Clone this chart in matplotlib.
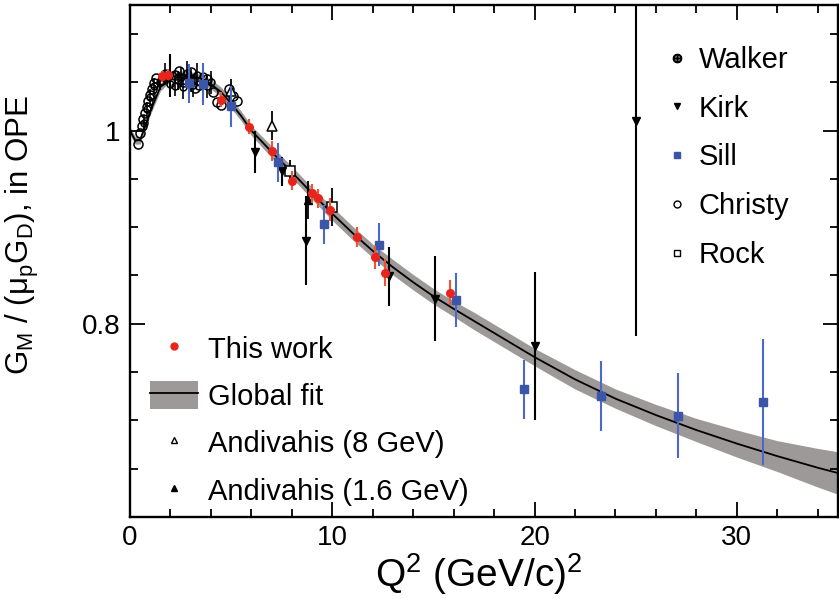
import numpy as np
import matplotlib as mpl
import matplotlib.pyplot as plt
from matplotlib.patches import Patch
from matplotlib.lines import Line2D
from matplotlib.ticker import FixedLocator, FixedFormatter, MultipleLocator

# Global fit curve and half width of its band
fit_q2 = [0, 0.25, 0.5, 0.75, 1.0, 1.5, 2.0, 2.5, 3.0, 3.5, 4.0, 4.5, 5.0, 5.5, 6.0,
          7, 8, 9, 10, 11, 12, 13, 14, 15, 16, 17, 18, 19, 20, 22, 24, 26, 28, 30, 32, 34, 35]
fit_gm = [1.0, 0.99, 0.99, 1.005, 1.02, 1.045, 1.055, 1.058, 1.057, 1.054, 1.048, 1.04, 1.028,
          1.015, 1.0, 0.978, 0.957, 0.935, 0.914, 0.894, 0.8755, 0.8585, 0.843, 0.8285, 0.8155,
          0.803, 0.7905, 0.778, 0.7655, 0.7425, 0.7225, 0.7055, 0.690, 0.676, 0.663, 0.651, 0.6455]
fit_err = [0.004, 0.004, 0.004, 0.004, 0.004, 0.004, 0.004, 0.004, 0.004, 0.004, 0.005, 0.005,
           0.005, 0.005, 0.005, 0.006, 0.006, 0.006, 0.007, 0.007, 0.007, 0.008, 0.008, 0.008,
           0.008, 0.009, 0.009, 0.009, 0.009, 0.010, 0.010, 0.011, 0.012, 0.014, 0.016, 0.020, 0.022]

# This work
tw_q2 = [1.6, 1.9, 4.5, 5.9, 7.0, 8.0, 9.0, 9.3, 9.9, 11.2, 12.1, 12.6, 15.8]
tw_gm = [1.056, 1.058, 1.032, 1.004, 0.979, 0.948, 0.935, 0.930, 0.918, 0.890, 0.869, 0.853, 0.832]
tw_err = [0.006, 0.006, 0.008, 0.008, 0.010, 0.010, 0.010, 0.010, 0.012, 0.010, 0.012, 0.014, 0.013]

# Sill
sill_q2 = [2.9, 3.6, 5.0, 7.3, 9.6, 12.3, 16.1, 19.5, 23.3, 27.1, 31.3]
sill_gm = [1.049, 1.048, 1.025, 0.967, 0.903, 0.882, 0.825, 0.732, 0.725, 0.705, 0.719]
sill_err = [0.020, 0.022, 0.021, 0.020, 0.020, 0.022, 0.028, 0.031, 0.036, 0.044, 0.065]

# Kirk
kirk_q2 = [2.0, 6.2, 7.5, 8.7, 12.8, 15.1, 20.0, 25.0]
kirk_gm = [1.057, 0.978, 0.958, 0.886, 0.849, 0.826, 0.777, 1.010]
kirk_err = [0.022, 0.022, 0.015, 0.046, 0.031, 0.044, 0.0765, 0.223]

# Andivahis
and8_q2 = [5.0, 7.0]
and8_gm = [1.041, 1.005]
and8_err = [0.012, 0.015]
and16_q2 = [8.8]
and16_gm = [0.928]
and16_err = [0.02]

# Rock
rock_q2 = [7.9, 10.0]
rock_gm = [0.958, 0.921]
rock_err = [0.012, 0.020]

# Christy
chr_q2 = [0.41, 0.50, 0.58, 0.66, 0.75, 0.83, 0.91, 0.99, 1.07, 1.17, 1.30, 1.60, 2.2, 2.4,
          2.6, 3.0, 3.2, 3.4, 3.8, 4.1, 4.3, 4.5, 4.9, 5.1, 5.3]
chr_gm = [0.986, 0.997, 1.005, 1.012, 1.018, 1.024, 1.031, 1.037, 1.043, 1.049, 1.054, 1.052,
          1.058, 1.062, 1.050, 1.061, 1.044, 1.047, 1.053, 1.040, 1.030, 1.027, 1.043, 1.036, 1.031]

# Walker
wal_q2 = [0.7, 0.85, 1.0, 1.2, 1.5, 1.75, 2.0, 2.2, 2.35, 2.5, 2.6, 2.8, 3.0, 3.1, 3.3, 3.6, 3.8, 4.0]
wal_gm = [1.008, 1.022, 1.035, 1.046, 1.050, 1.060, 1.048, 1.046, 1.052, 1.055, 1.045, 1.060,
          1.052, 1.047, 1.058, 1.057, 1.046, 1.050]
wal_err = [0.008, 0.008, 0.008, 0.008, 0.008, 0.010, 0.010, 0.010, 0.010, 0.010, 0.012, 0.012,
           0.012, 0.012, 0.012, 0.012, 0.012, 0.012]

red = '#e8251d'
red_bar = '#f0552e'
blue = '#3b55a8'
blue_bar = '#4d68c8'
band = '#9d9999'

plt.rc('font', family='Liberation Sans', size=20)
plt.rc('mathtext', fontset='custom', rm='Liberation Sans', it='Liberation Sans:italic',
       default='regular')

fig = plt.figure(figsize=(8.39, 5.99), dpi=100)
ax = fig.add_axes([130 / 839, 82 / 599, 708 / 839, 512 / 599])

fit_q2 = np.array(fit_q2)
fit_gm = np.array(fit_gm)
fit_err = np.array(fit_err)
ax.fill_between(fit_q2, fit_gm - fit_err, fit_gm + fit_err, color=band, lw=0, zorder=1)
ax.plot(fit_q2, fit_gm, color='k', lw=1.3, zorder=2)

ax.plot(chr_q2, chr_gm, 'o', ms=6.5, mfc='none', mec='k', mew=1.1, zorder=3)
ax.errorbar(wal_q2, wal_gm, yerr=wal_err, fmt='o', ms=5, mfc='none', mec='k', mew=1.1,
            ecolor='k', elinewidth=1.2, zorder=3)
ax.errorbar(rock_q2, rock_gm, yerr=rock_err, fmt='s', ms=6.5, mfc='white', mec='k', mew=1.1,
            ecolor='k', elinewidth=1.3, zorder=4)
ax.errorbar(kirk_q2, kirk_gm, yerr=kirk_err, fmt='v', ms=5.5, color='k',
            ecolor='k', elinewidth=1.5, zorder=4)
ax.errorbar(and8_q2, and8_gm, yerr=and8_err, fmt='^', ms=7, mfc='white', mec='k', mew=1.1,
            ecolor='k', elinewidth=1.3, zorder=4)
ax.errorbar(and16_q2, and16_gm, yerr=and16_err, fmt='^', ms=5.5, color='k',
            ecolor='k', elinewidth=1.3, zorder=4)
ax.errorbar(sill_q2, sill_gm, yerr=sill_err, fmt='s', ms=5.5, color=blue,
            ecolor=blue_bar, elinewidth=1.5, zorder=5)
ax.errorbar(tw_q2, tw_gm, yerr=tw_err, fmt='o', ms=5.5, color=red,
            ecolor=red_bar, elinewidth=1.5, zorder=6)

ax.set_xlim(0, 35)
ax.set_ylim(0.6, 1.13)
ax.xaxis.set_major_locator(MultipleLocator(10))
ax.xaxis.set_minor_locator(MultipleLocator(2))
ax.yaxis.set_major_locator(FixedLocator([0.8, 1.0]))
ax.yaxis.set_major_formatter(FixedFormatter(['0.8', '1']))
ax.yaxis.set_minor_locator(MultipleLocator(0.05))
ax.tick_params(which='both', direction='in', top=True, right=True, width=1.3)
ax.tick_params(which='major', length=11, labelsize=20)
ax.tick_params(which='major', axis='x', pad=6)
ax.tick_params(which='major', axis='y', pad=7)
ax.tick_params(which='minor', length=6)
for s in ax.spines.values():
    s.set_linewidth(1.7)

ax.set_xlabel('Q$^2$ (GeV/c)$^2$', fontsize=28)
ax.set_ylabel('G$_M$ / (μ$_p$G$_D$), in OPE', fontsize=22.5)
ax.xaxis.set_label_coords(0.492, -0.066)
ax.yaxis.set_label_coords(-0.125, 0.55)

# left legend
h_tw = Line2D([], [], marker='o', ls='none', color=red, ms=5)
h_fit = (Patch(facecolor=band, edgecolor='none'), Line2D([], [], color='k', lw=1.3))
h_a8 = Line2D([], [], marker='^', ls='none', mfc='white', mec='k', ms=5)
h_a16 = Line2D([], [], marker='^', ls='none', color='k', ms=4.5)
leg1 = ax.legend([h_tw, h_fit, h_a8, h_a16],
                 ['This work', 'Global fit', 'Andivahis (8 GeV)', 'Andivahis (1.6 GeV)'],
                 loc='upper left', bbox_to_anchor=(0.028, 0.358), frameon=False,
                 fontsize=21, handlelength=1.65, handleheight=1.1, handletextpad=0.35,
                 labelspacing=0.6, borderpad=0, borderaxespad=0)
ax.add_artist(leg1)

# right legend
h_wal = Line2D([], [], marker='$\u2295$', ls='none', color='k', ms=6)
h_kirk = Line2D([], [], marker='v', ls='none', color='k', ms=4.5)
h_sill = Line2D([], [], marker='s', ls='none', color=blue, ms=4.5)
h_chr = Line2D([], [], marker='o', ls='none', mfc='white', mec='k', ms=5)
h_rock = Line2D([], [], marker='s', ls='none', mfc='white', mec='k', ms=5)
ax.legend([h_wal, h_kirk, h_sill, h_chr, h_rock],
          ['Walker', 'Kirk', 'Sill', 'Christy', 'Rock'],
          loc='upper left', bbox_to_anchor=(0.758, 0.92), frameon=False,
          fontsize=21, handlelength=0.7, handletextpad=0.4,
          labelspacing=0.71, borderpad=0, borderaxespad=0)

fig.savefig('out.png', dpi=100)
